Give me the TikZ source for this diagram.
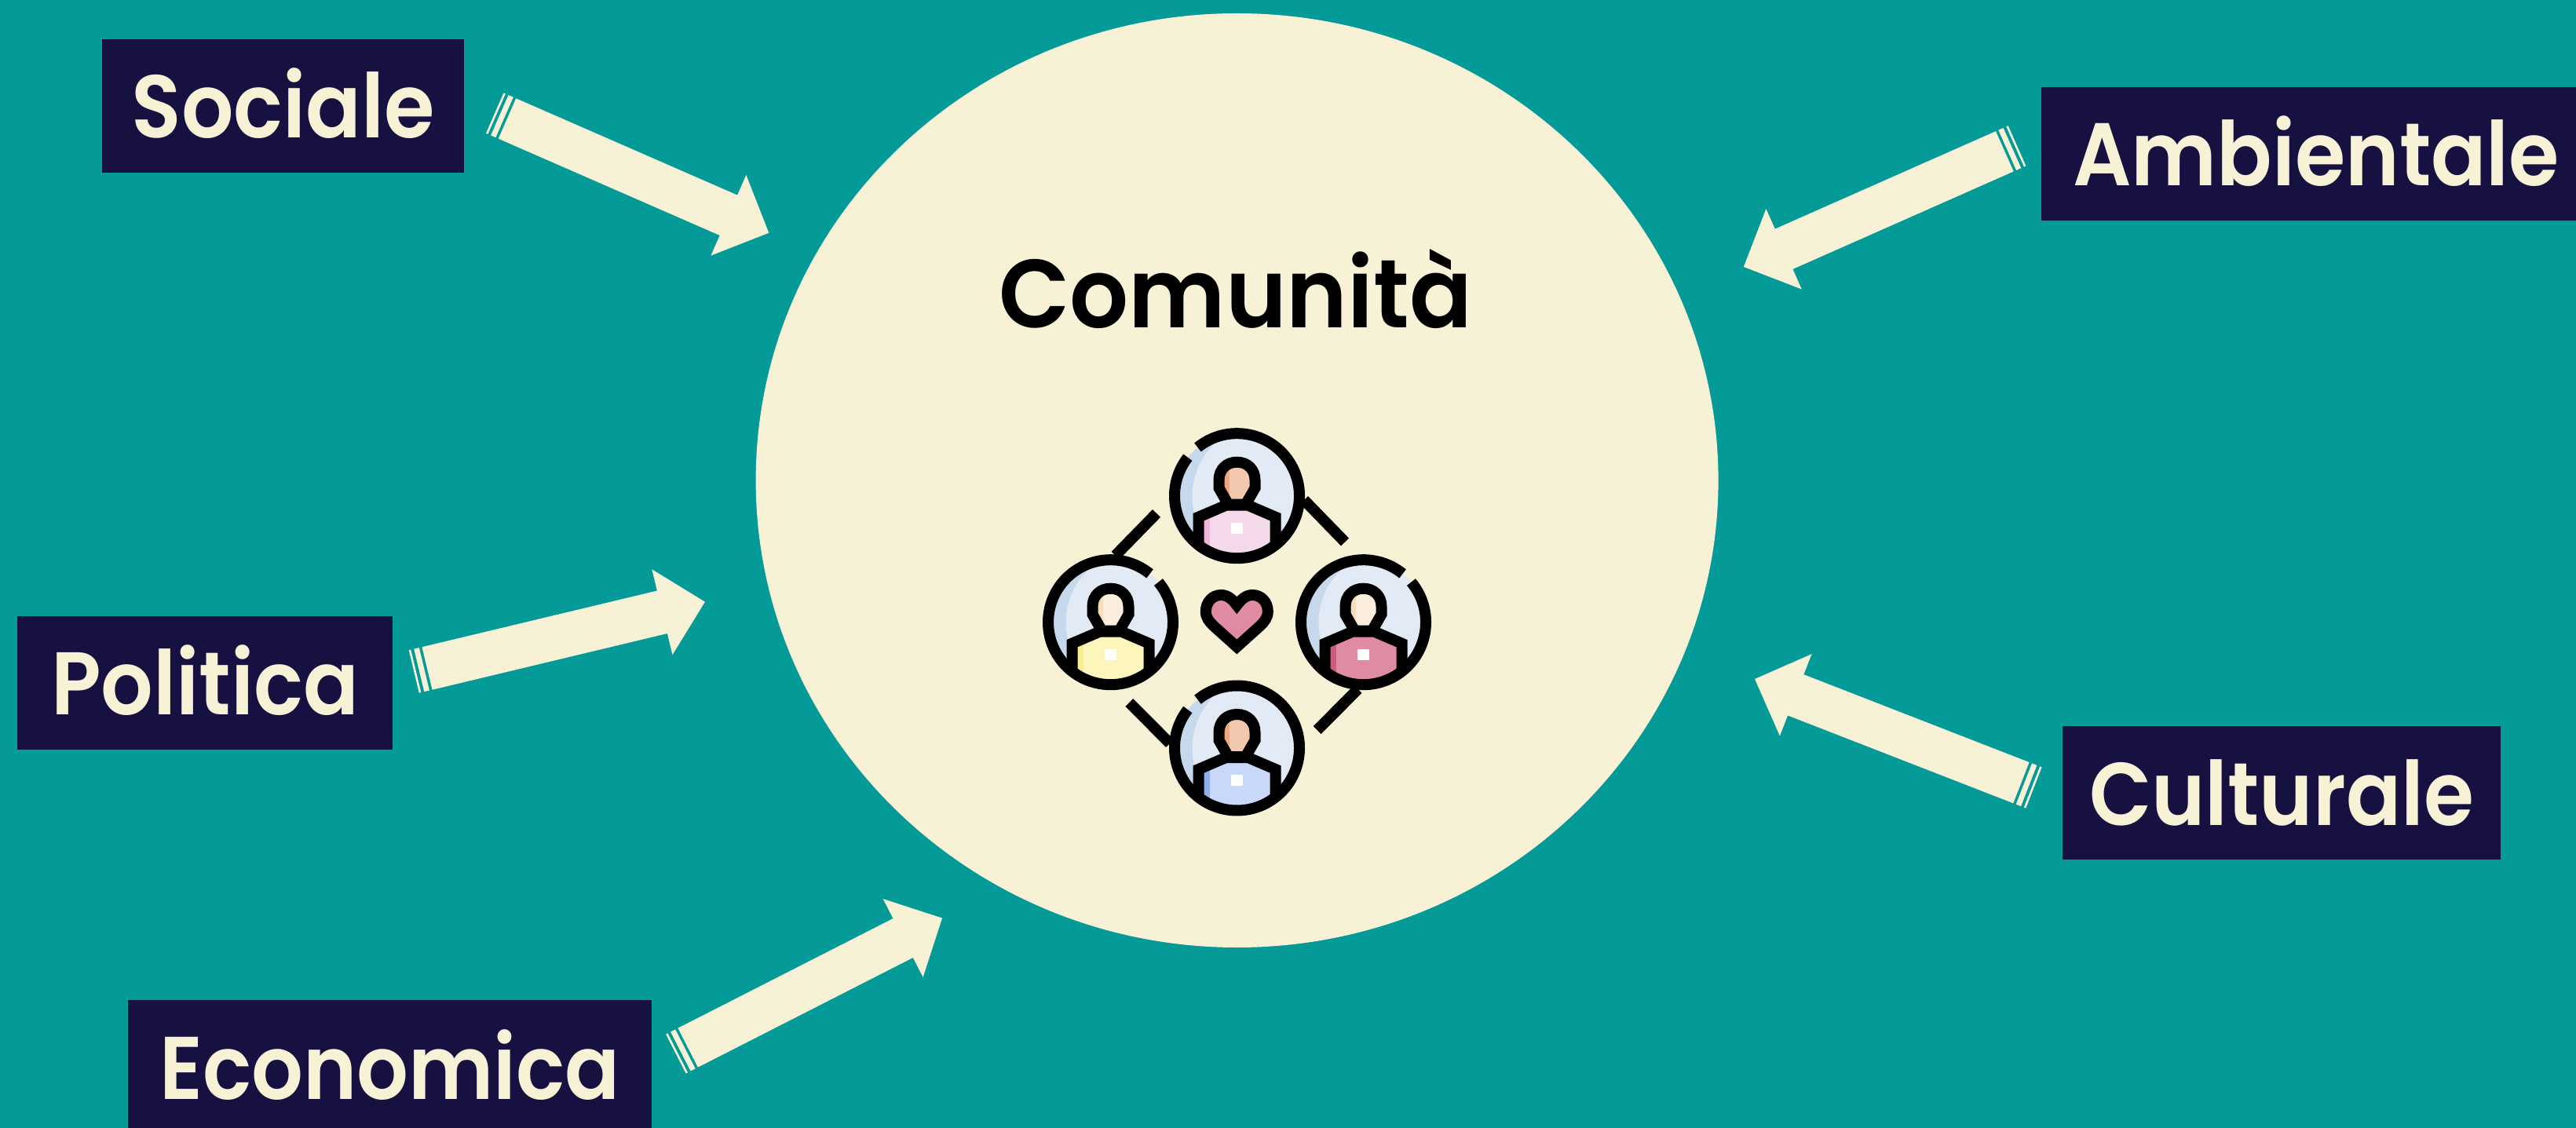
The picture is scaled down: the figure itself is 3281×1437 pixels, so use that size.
\documentclass[tikz,border=0pt]{standalone}
\usepackage{graphicx}
\usepackage{fontspec}
\setmainfont{Poppins}[UprightFont={* SemiBold}]
\usetikzlibrary{shapes.geometric,calc}
\definecolor{teal}{HTML}{049A98}
\definecolor{navy}{HTML}{171142}
\definecolor{cream}{HTML}{F7F1D6}
\definecolor{ringlight}{HTML}{E2EAF6}
\definecolor{ringdark}{HTML}{C6D8EC}
\definecolor{heartlight}{HTML}{DF8BA1}
\definecolor{heartdark}{HTML}{CF5A7D}
\definecolor{skinA}{HTML}{F2C9AE}
\definecolor{skinAd}{HTML}{EFA780}
\definecolor{skinB}{HTML}{FBEEDC}
\definecolor{skinBd}{HTML}{F7DDBB}
\definecolor{shirtP}{HTML}{F3D9EA}
\definecolor{shirtPd}{HTML}{EBB8DC}
\definecolor{shirtY}{HTML}{FCF5BC}
\definecolor{shirtYd}{HTML}{F9EE88}
\definecolor{shirtB}{HTML}{C9D8F8}
\definecolor{shirtBd}{HTML}{8FAFEE}
\newlength{\pxunit}
\setlength{\pxunit}{0.3pt}
\newcommand{\fitw}[2]{\resizebox{#1\pxunit}{\height}{#2}}
\newcommand{\blockarrow}[2]{%
  \pgfpointdiff{\pgfpointanchor{#1}{center}}{\pgfpointanchor{#2}{center}}%
  \pgfgetlastxy{\ardx}{\ardy}%
  \pgfmathsetmacro{\arang}{atan2(\ardy,\ardx)}%
  \pgfmathsetmacro{\arlen}{veclen(\ardx,\ardy)/0.3}%
  \begin{scope}[shift={(#1)},rotate=\arang]
    \fill[cream] (0,-28) -- ({\arlen-56},-28) -- ({\arlen-56},-56) -- (\arlen,0)
      -- ({\arlen-56},56) -- ({\arlen-56},28) -- (0,28) -- cycle;
    \fill[cream] (-3.7,-28) rectangle (-10.5,28);
    \fill[cream] (-14.6,-28) rectangle (-17.2,28);
  \end{scope}%
}
\def\headpath{(-23,-10) -- (-23,-20) .. controls (-23,-34) and (-13,-43) .. (0,-43)
  .. controls (13,-43) and (23,-34) .. (23,-20) -- (23,-10) -- (11,11) -- (-11,11) -- cycle}
\def\shirtpath{(-49,27) -- (-14,12) -- (14,12) -- (49,27) -- (49,95) -- (-49,95) -- cycle}
\def\heartpath{(0,-8) .. controls (6,-16) and (12,-21) .. (20,-21)
  .. controls (31,-21) and (39.5,-12) .. (39.5,0)
  .. controls (39.5,8) and (35,13) .. (30,18) -- (0,45) -- (-30,18)
  .. controls (-35,13) and (-39.5,8) .. (-39.5,0)
  .. controls (-39.5,-12) and (-31,-21) .. (-20,-21)
  .. controls (-12,-21) and (-6,-16) .. (0,-8) -- cycle}
% #1 centre, #2 shirt, #3 shirt dark, #4 skin, #5 skin dark, #6 arc start, #7 arc end
\newcommand{\person}[7]{%
  \begin{scope}[shift={(#1)}]
    \begin{scope}
      \clip (0,0) circle[radius=79.5];
      \fill[ringdark] (0,0) circle[radius=79.5];
      \fill[ringlight] (35,0) circle[radius=92];
      \begin{scope}
        \clip \shirtpath;
        \fill[#3] \shirtpath;
        \fill[#2] (-35,0) rectangle (60,95);
      \end{scope}
      \draw[icon] \shirtpath;
      \begin{scope}
        \clip \headpath;
        \fill[#5] \headpath;
        \fill[#4] (-10,-50) rectangle (30,20);
      \end{scope}
      \draw[icon] \headpath;
      \fill[white] (-7.3,34) rectangle (7.3,48);
    \end{scope}
    \draw[icon] (#6:79.5) arc[start angle=#6,end angle=#7,radius=79.5];
  \end{scope}%
}
\tikzset{
  labelbox/.style={fill=navy,text=cream,inner sep=0pt,font=\fontsize{34pt}{40pt}\selectfont,
    minimum height=170\pxunit,text height=26.6pt,text depth=2pt},
  icon/.style={draw=black,line width=14\pxunit,line join=miter},
}
\begin{document}
\begin{tikzpicture}[x=0.3pt,y=-0.3pt]
\useasboundingbox (0,0) rectangle (3281,1437);
\clip (0,0) rectangle (3281,1437);
\fill[teal] (0,0) rectangle (3281,1437);

\node[ellipse,fill=cream,inner sep=0pt,minimum width=1226\pxunit,minimum height=1190\pxunit] (comunita) at (1575.6,612) {};
\node[anchor=base,text=black,inner sep=0pt,font=\fontsize{37pt}{44pt}\selectfont] (comunitaLabel) at (1573.5,418) {\fitw{603}{Comunità}};

\node[labelbox,minimum width=461\pxunit] (sociale) at (360.5,135) {\fitw{386}{Sociale}};
\node[labelbox,minimum width=700\pxunit] (ambientale) at (2950,196) {\fitw{620}{Ambientale}};
\node[labelbox,minimum width=558\pxunit] (culturale) at (2906,1010) {\fitw{490}{Culturale}};
\node[labelbox,minimum width=478\pxunit] (politica) at (261,870) {\fitw{392}{Politica}};
\node[labelbox,minimum width=667\pxunit] (economica) at (496.5,1359) {\fitw{587}{Economica}};

\coordinate (socialeTail) at (646,151);
\coordinate (socialeTip) at (979.3,296.7);
\coordinate (ambientaleTail) at (2553.3,192.8);
\coordinate (ambientaleTip) at (2220.7,340);
\coordinate (culturaleTail) at (2574.4,997.2);
\coordinate (culturaleTip) at (2235,865);
\coordinate (politicaTail) at (544,851.5);
\coordinate (politicaTip) at (897.9,766.7);
\coordinate (economicaTail) at (876.2,1334.7);
\coordinate (economicaTip) at (1200.6,1169.3);
\blockarrow{socialeTail}{socialeTip}
\blockarrow{ambientaleTail}{ambientaleTip}
\blockarrow{culturaleTail}{culturaleTip}
\blockarrow{politicaTail}{politicaTip}
\blockarrow{economicaTail}{economicaTip}

% icon: links
\draw[icon] (1661,637) -- (1713,690.5);
\draw[icon] (1473,654) -- (1420.6,707.7);
\draw[icon] (1677.7,930) -- (1729.5,878);
\draw[icon] (1438.3,895) -- (1490,947);
% icon: people
\person{1575.5,631.7}{shirtP}{shirtPd}{skinA}{skinAd}{-129}{218}
\person{1414.5,792.7}{shirtY}{shirtYd}{skinB}{skinBd}{-40}{309}
\person{1736.5,792.7}{heartlight}{heartdark}{skinB}{skinBd}{-40}{309}
\person{1575.5,953}{shirtB}{shirtBd}{skinA}{skinAd}{-129}{218}
% icon: heart
\begin{scope}[shift={(1575.3,779)}]
  \begin{scope}
    \clip \heartpath;
    \fill[heartdark] \heartpath;
    \fill[heartlight,shift={(7,2)}] \heartpath;
  \end{scope}
  \draw[icon] \heartpath;
\end{scope}
\end{tikzpicture}
\end{document}
